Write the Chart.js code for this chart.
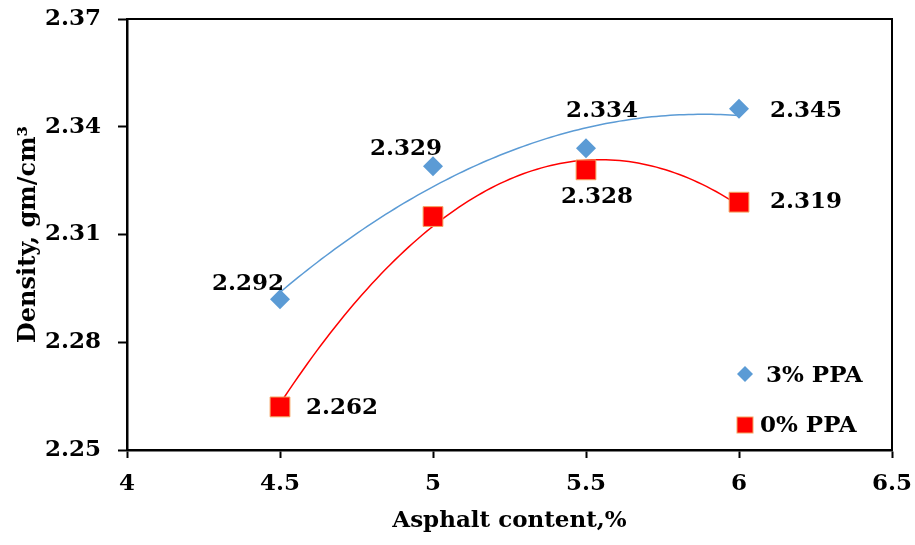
<!DOCTYPE html>
<html>
<head>
<meta charset="utf-8">
<script src="https://cdn.jsdelivr.net/npm/chart.js@4.4.0/dist/chart.umd.min.js"></script>
<style>
  body { margin: 0; background: #fff; }
  #wrap { width: 915px; height: 545px; }
</style>
</head>
<body>
<div id="wrap"><canvas id="myChart"></canvas></div>
<script>
const asphaltContent = [4.5, 5, 5.5, 6]
const density3PPA = [2.292, 2.329, 2.334, 2.345]
const density0PPA = [2.262, 2.315, 2.328, 2.319]
const xTicks = [4, 4.5, 5, 5.5, 6, 6.5]
const yTicks = [2.25, 2.28, 2.31, 2.34, 2.37]
const seriesNames = ['3% PPA', '0% PPA']

const blueColor = '#5b9bd5'
const redColor = '#ff0000'
const fontFamily = "'DejaVu Serif', serif"

Chart.defaults.font.family = fontFamily
Chart.defaults.font.weight = 'bold'
Chart.defaults.color = '#000'

function toPoints(xs, ys) {
  return xs.map((x, i) => ({ x: x, y: ys[i] }))
}

// least squares quadratic, same as the excel poly trendline
function quadFit(xs, ys) {
  var s = [0, 0, 0, 0, 0], t = [0, 0, 0]
  for (var i = 0; i < xs.length; i++) {
    var p = 1
    for (var k = 0; k < 5; k++) { s[k] += p; if (k < 3) t[k] += p * ys[i]; p *= xs[i] }
  }
  var m = [[s[0], s[1], s[2], t[0]], [s[1], s[2], s[3], t[1]], [s[2], s[3], s[4], t[2]]]
  for (var c = 0; c < 3; c++) {
    for (var r = c + 1; r < 3; r++) {
      var f = m[r][c] / m[c][c]
      for (var j = c; j < 4; j++) m[r][j] -= f * m[c][j]
    }
  }
  var coef = [0, 0, 0]
  for (var r = 2; r >= 0; r--) {
    var v = m[r][3]
    for (var j = r + 1; j < 3; j++) v -= m[r][j] * coef[j]
    coef[r] = v / m[r][r]
  }
  return coef
}

const trendPlugin = {
  id: 'trend',
  beforeDatasetsDraw(chart) {
    var ctx = chart.ctx, xs = chart.scales.x, ys = chart.scales.y
    chart.data.datasets.forEach(ds => {
      var px = ds.data.map(d => d.x), py = ds.data.map(d => d.y)
      var c = quadFit(px, py)
      var x0 = Math.min.apply(null, px), x1 = Math.max.apply(null, px)
      ctx.save()
      ctx.strokeStyle = ds.trendColor
      ctx.lineWidth = 1.5
      ctx.beginPath()
      for (var i = 0; i <= 100; i++) {
        var x = x0 + (x1 - x0) * i / 100
        var y = c[0] + c[1] * x + c[2] * x * x
        var X = xs.getPixelForValue(x), Y = ys.getPixelForValue(y)
        if (i === 0) ctx.moveTo(X, Y); else ctx.lineTo(X, Y)
      }
      ctx.stroke()
      ctx.restore()
    })
  }
}

const labelPlugin = {
  id: 'pointLabels',
  afterDatasetsDraw(chart) {
    var ctx = chart.ctx
    ctx.save()
    ctx.font = 'bold 23px ' + fontFamily
    ctx.fillStyle = '#000'
    ctx.textAlign = 'center'
    ctx.textBaseline = 'middle'
    chart.data.datasets.forEach((ds, di) => {
      var meta = chart.getDatasetMeta(di)
      meta.data.forEach((pt, i) => {
        var off = ds.labelOffsets[i]
        if (!off) return
        ctx.fillText(ds.data[i].y.toFixed(3), pt.x + off[0], pt.y + off[1])
      })
    })
    ctx.restore()
  }
}

const framePlugin = {
  id: 'frame',
  beforeDatasetsDraw(chart) {
    var a = chart.chartArea, ctx = chart.ctx
    ctx.save()
    ctx.strokeStyle = '#000'
    ctx.lineWidth = 2
    ctx.beginPath()
    ctx.moveTo(a.left, a.top)
    ctx.lineTo(a.right, a.top)
    ctx.lineTo(a.right, a.bottom)
    ctx.stroke()
    ctx.restore()
  }
}

const legendPlugin = {
  id: 'insideLegend',
  afterDraw(chart) {
    var ctx = chart.ctx
    ctx.save()
    ctx.font = 'bold 23px ' + fontFamily
    ctx.textBaseline = 'middle'
    // diamond
    ctx.fillStyle = blueColor
    ctx.beginPath()
    ctx.moveTo(745, 366); ctx.lineTo(753, 374); ctx.lineTo(745, 382); ctx.lineTo(737, 374)
    ctx.closePath(); ctx.fill()
    ctx.fillStyle = '#000'
    ctx.fillText(seriesNames[0], 766, 376)
    // square
    ctx.fillStyle = redColor
    ctx.fillRect(737, 417, 16, 16)
    ctx.strokeStyle = '#f4a460'
    ctx.lineWidth = 1
    ctx.strokeRect(737, 417, 16, 16)
    ctx.fillStyle = '#000'
    ctx.fillText(seriesNames[1], 760, 426)
    ctx.restore()
  }
}

var ctx = document.getElementById('myChart')
var chart = new Chart(ctx, {
  type: 'scatter',
  data: {
    datasets: [
      {
        label: seriesNames[0],
        data: toPoints(asphaltContent, density3PPA),
        pointStyle: 'rectRot',
        pointRadius: 10,
        pointHoverRadius: 10,
        backgroundColor: blueColor,
        borderColor: blueColor,
        borderWidth: 0,
        trendColor: blueColor,
        labelOffsets: [[-32, -15], [-27, -17], [16, -37], [67, 2]]
      },
      {
        label: seriesNames[1],
        data: toPoints(asphaltContent, density0PPA),
        pointStyle: 'rect',
        pointRadius: 14,
        pointHoverRadius: 14,
        backgroundColor: redColor,
        borderColor: '#f4a460',
        borderWidth: 1,
        trendColor: redColor,
        labelOffsets: [[62, 1], null, [11, 27], [67, 0]]
      }
    ]
  },
  options: {
    responsive: true,
    maintainAspectRatio: false,
    animation: false,
    layout: { padding: 0 },
    plugins: {
      legend: { display: false },
      tooltip: { enabled: false }
    },
    scales: {
      x: {
        type: 'linear',
        min: 4,
        max: 6.5,
        afterBuildTicks: s => { s.ticks = xTicks.map(v => ({ value: v })) },
        afterFit: s => { s.height = 95; s.paddingRight = 23 },
        ticks: { font: { size: 23 }, padding: 12, callback: v => String(v) },
        grid: { drawOnChartArea: false, tickLength: 8, tickWidth: 2, tickColor: '#000' },
        border: { color: '#000', width: 2.5 },
        title: { display: true, text: 'Asphalt content,%', font: { size: 23 }, padding: { top: 0, bottom: 10 } }
      },
      y: {
        min: 2.25,
        max: 2.37,
        afterBuildTicks: s => { s.ticks = yTicks.map(v => ({ value: v })) },
        afterFit: s => { s.width = 127; s.paddingTop = 19 },
        ticks: { font: { size: 23 }, padding: 17, callback: v => v.toFixed(2) },
        grid: { drawOnChartArea: false, tickLength: 9, tickWidth: 2, tickColor: '#000' },
        border: { color: '#000', width: 2.5 },
        title: { display: true, text: 'Density, gm/cm³', font: { size: 24 }, padding: { top: 14, bottom: 0 } }
      }
    }
  },
  plugins: [framePlugin, trendPlugin, labelPlugin, legendPlugin]
})
</script>
</body>
</html>
